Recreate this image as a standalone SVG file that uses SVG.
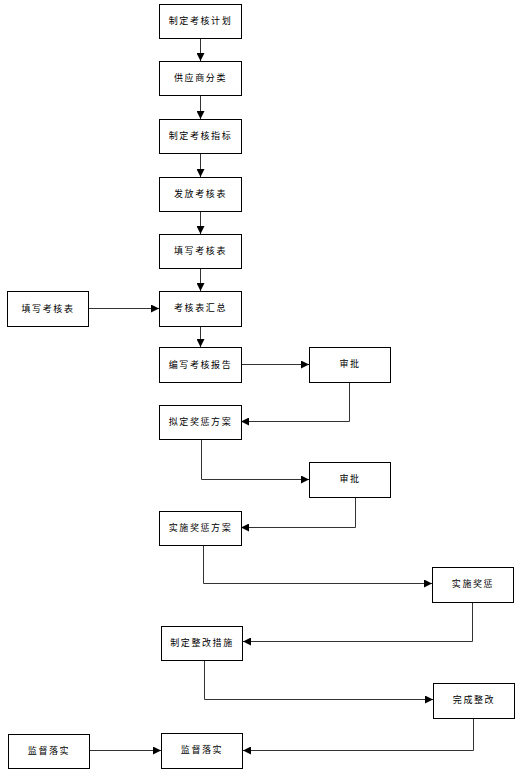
<svg xmlns="http://www.w3.org/2000/svg" width="520" height="776" viewBox="0 0 520 776">
<defs>
<marker id="ah" viewBox="0 0 10 10" refX="10" refY="5" markerWidth="8" markerHeight="8" markerUnits="userSpaceOnUse" orient="auto">
<path d="M0,0 L10,5 L0,10 Z" fill="#000"/>
</marker>
<style>
.box{fill:#fff;stroke:#000;stroke-width:1}
.t{font-family:"Noto Sans CJK SC","Liberation Sans",sans-serif;font-size:9px;letter-spacing:1.6px;fill:#000;text-anchor:middle;dominant-baseline:central}
.c{fill:none;stroke:#333;stroke-width:1;marker-end:url(#ah)}
</style>
</defs>
<rect width="520" height="776" fill="#fff"/>
<g id="connectors">
<path class="c" d="M200.5,38 V61"/>
<path class="c" d="M200.5,95 V119"/>
<path class="c" d="M200.5,153 V177"/>
<path class="c" d="M200.5,211 V234"/>
<path class="c" d="M200.5,268 V291"/>
<path class="c" d="M200.5,326 V347"/>
<path class="c" d="M88,308.5 H159"/>
<path class="c" d="M241,364.5 H309"/>
<path class="c" d="M349.5,382 V421.5 H241"/>
<path class="c" d="M201.5,439 V479.5 H309"/>
<path class="c" d="M355.5,497 V527.5 H241"/>
<path class="c" d="M203.5,545 V583.5 H432"/>
<path class="c" d="M472.5,602 V641.5 H243"/>
<path class="c" d="M204.5,660 V699.5 H433"/>
<path class="c" d="M473.5,718 V750.5 H243"/>
<path class="c" d="M89,750.5 H161"/>
</g>
<g id="n1"><rect class="box" x="159.5" y="4.5" width="82" height="34"/><text class="t" x="200.5" y="20">制定考核计划</text></g>
<g id="n2"><rect class="box" x="159.5" y="61.5" width="82" height="34"/><text class="t" x="200.5" y="77">供应商分类</text></g>
<g id="n3"><rect class="box" x="159.5" y="119.5" width="82" height="34"/><text class="t" x="200.5" y="135">制定考核指标</text></g>
<g id="n4"><rect class="box" x="159.5" y="177.5" width="82" height="34"/><text class="t" x="200.5" y="193">发放考核表</text></g>
<g id="n5"><rect class="box" x="159.5" y="234.5" width="82" height="34"/><text class="t" x="200.5" y="250">填写考核表</text></g>
<g id="n6"><rect class="box" x="159.5" y="291.5" width="82" height="35"/><text class="t" x="200.5" y="307">考核表汇总</text></g>
<g id="n6b"><rect class="box" x="7.5" y="291.5" width="81" height="35"/><text class="t" x="48" y="308.5">填写考核表</text></g>
<g id="n7"><rect class="box" x="159.5" y="347.5" width="82" height="35"/><text class="t" x="200.5" y="364">编写考核报告</text></g>
<g id="n8"><rect class="box" x="309.5" y="347.5" width="81" height="35"/><text class="t" x="350" y="363">审批</text></g>
<g id="n9"><rect class="box" x="159.5" y="405.5" width="82" height="34"/><text class="t" x="200.5" y="421">拟定奖惩方案</text></g>
<g id="n10"><rect class="box" x="309.5" y="462.5" width="81" height="35"/><text class="t" x="350" y="478">审批</text></g>
<g id="n11"><rect class="box" x="159.5" y="511.5" width="82" height="34"/><text class="t" x="200.5" y="527">实施奖惩方案</text></g>
<g id="n12"><rect class="box" x="432.5" y="567.5" width="81" height="35"/><text class="t" x="473" y="583">实施奖惩</text></g>
<g id="n13"><rect class="box" x="161.5" y="626.5" width="81" height="34"/><text class="t" x="202" y="642">制定整改措施</text></g>
<g id="n14"><rect class="box" x="433.5" y="683.5" width="81" height="35"/><text class="t" x="474" y="699">完成整改</text></g>
<g id="n15"><rect class="box" x="8.5" y="734.5" width="81" height="34"/><text class="t" x="49" y="750.5">监督落实</text></g>
<g id="n16"><rect class="box" x="161.5" y="733.5" width="81" height="35"/><text class="t" x="202" y="749.5">监督落实</text></g>
</svg>
